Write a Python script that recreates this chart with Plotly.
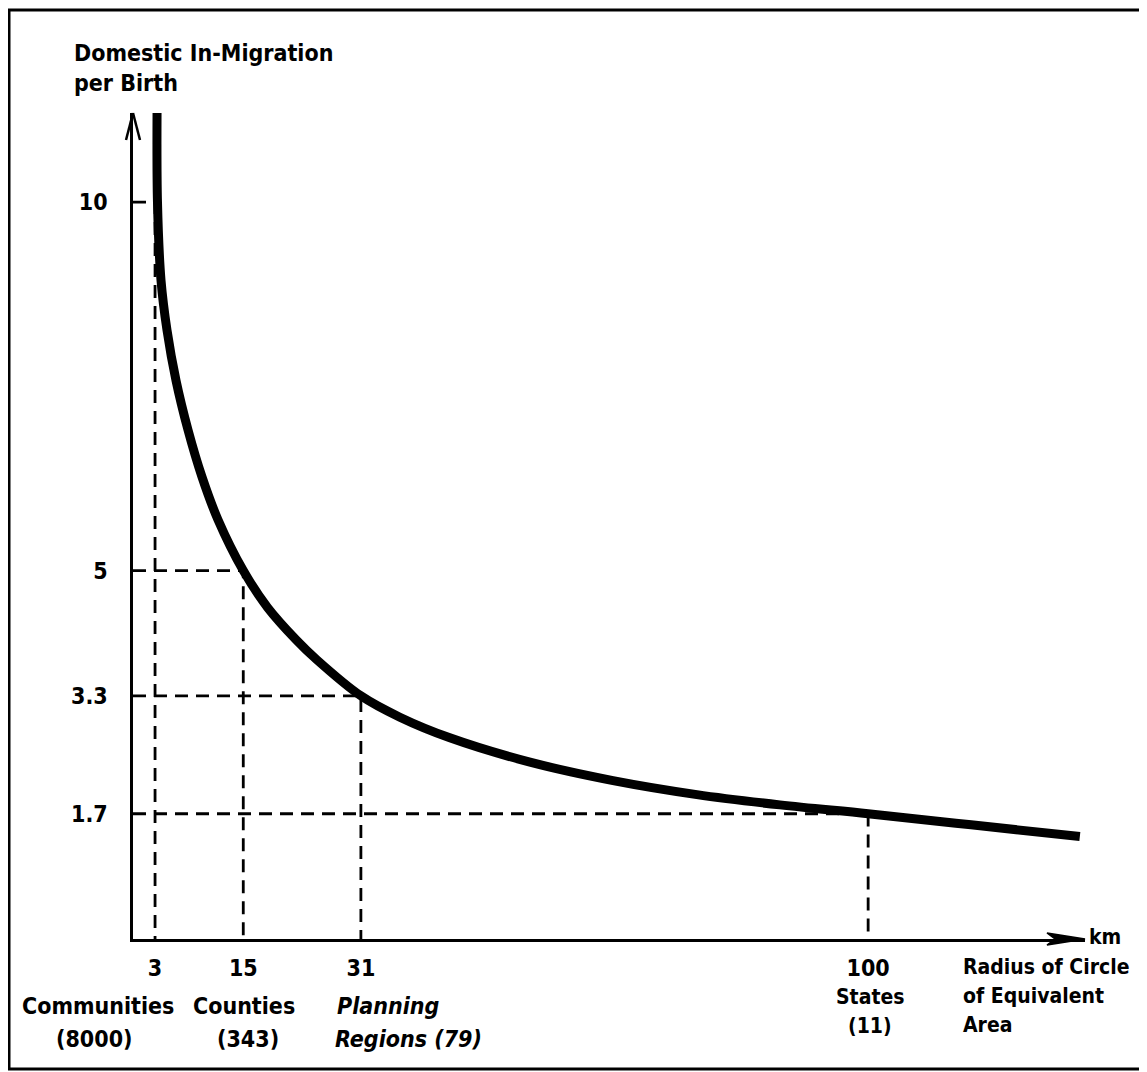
import plotly.graph_objects as go

# ---------------- data ----------------
radius_km = [3, 15, 31, 100]
inmigration_per_birth = [10, 5, 3.3, 1.7]
x_tick_labels = ["3", "15", "31", "100"]
y_tick_labels = ["10", "5", "3.3", "1.7"]
unit_names = ["Communities", "Counties", "Planning", "States"]
unit_counts = ["(8000)", "(343)", "Regions (79)", "(11)"]

curve_km = [3.27, 3.33, 3.81, 4.63, 5.85, 7.48, 9.39, 11.56, 15, 18.3, 22.2, 25.0,
            31, 36.3, 43.1, 54.0, 65.3, 76.7, 88.0, 100, 114.0, 128.8]
curve_value = [11.21, 10.0, 8.94, 8.26, 7.58, 6.91, 6.27, 5.69, 5.0, 4.5, 4.06, 3.79,
               3.3, 3.01, 2.73, 2.40, 2.15, 1.96, 1.82, 1.7, 1.55, 1.39]

X_MAX = 129.5
Y_MAX = 11.21

# ---------------- layout geometry (reference pixels) ----------------
OFF = 8                        # default page margin of the html body
W, H = 1147 - OFF, 1072 - OFF
L, R, T, B = 133, 1085, 113, 939   # plot area in reference pixels
FONT = "Liberation Sans Narrow, DejaVu Sans Condensed, Arial Narrow, sans-serif"


def px_x(p):
    return (p - L) / (R - L)


def px_y(p):
    return (B - p) / (B - T)


fig = go.Figure()

# dashed guide lines
for xk, yk in zip(radius_km, inmigration_per_birth):
    fig.add_trace(go.Scatter(
        x=[0, xk, xk], y=[yk, yk, 0], mode="lines",
        line=dict(color="black", width=2.8, dash="13px,8px"),
        hoverinfo="skip", showlegend=False))

# main curve
fig.add_trace(go.Scatter(
    x=curve_km, y=curve_value, mode="lines",
    line=dict(color="black", width=9, shape="spline", smoothing=1.0),
    showlegend=False))

annotations = []


def text(s, x, y, xanchor="center", size=22, italic=False):
    annotations.append(dict(
        text=s, x=px_x(x), y=px_y(y), xref="paper", yref="paper",
        xanchor=xanchor, yanchor="middle", showarrow=False,
        font=dict(family=FONT, size=size, color="black", weight="bold",
                  style="italic" if italic else "normal")))


text("Domestic In-Migration", 72, 53, "left", 23)
text("per Birth", 72, 83, "left", 23)

row2_pos = [(98, 1006, "center", 23), (244, 1006, "center", 23),
            (335, 1006, "left", 23), (870, 997, "center", 21)]
row3_pos = [(94, 1039, "center", 23), (248, 1039, "center", 23),
            (333, 1039, "left", 23), (870, 1026, "center", 21)]
for i, name in enumerate(unit_names):
    x, y, a, s = row2_pos[i]
    text(name, x, y, a, s, italic=(a == "left"))
    x, y, a, s = row3_pos[i]
    text(unit_counts[i], x, y, a, s, italic=(a == "left"))

text("km", 1087, 937, "left", 21)
text("Radius of Circle", 961, 967, "left", 21)
text("of Equivalent", 961, 996, "left", 21)
text("Area", 961, 1025, "left", 21)

shapes = [
    # frame
    dict(type="rect", xref="paper", yref="paper",
         x0=px_x(9), x1=px_x(1144), y0=px_y(1069), y1=px_y(10),
         line=dict(color="black", width=3)),
    # y-axis open arrowhead
    dict(type="line", xref="paper", yref="paper", xsizemode="pixel", ysizemode="pixel",
         xanchor=0, yanchor=1, x0=0, y0=0, x1=-7, y1=-27,
         line=dict(color="black", width=2.5)),
    dict(type="line", xref="paper", yref="paper", xsizemode="pixel", ysizemode="pixel",
         xanchor=0, yanchor=1, x0=0, y0=0, x1=7, y1=-27,
         line=dict(color="black", width=2.5)),
    # x-axis filled arrowhead
    dict(type="path", xref="paper", yref="paper", xsizemode="pixel", ysizemode="pixel",
         xanchor=1, yanchor=0, path="M0,0 L-38,6 L-30,0 L-38,-6 Z",
         fillcolor="black", line=dict(color="black", width=1.5)),
]

axis_common = dict(showline=True, linecolor="black", linewidth=2.5,
                   showgrid=False, zeroline=False, ticks="", mirror=False,
                   tickfont=dict(family=FONT, size=23, color="black", weight="bold"))

fig.update_layout(
    width=W, height=H, autosize=False,
    margin=dict(l=L - OFF, r=1147 - R, t=T - OFF, b=1072 - B, pad=0),
    paper_bgcolor="white", plot_bgcolor="white",
    showlegend=False,
    xaxis=dict(range=[0, X_MAX], tickvals=radius_km, ticktext=x_tick_labels,
               ticklabelstandoff=7, **axis_common),
    yaxis=dict(range=[0, Y_MAX], tickvals=inmigration_per_birth, ticktext=y_tick_labels,
               ticklabelstandoff=18, **axis_common),
    annotations=annotations,
    shapes=shapes,
)

fig.write_html("out.html")
